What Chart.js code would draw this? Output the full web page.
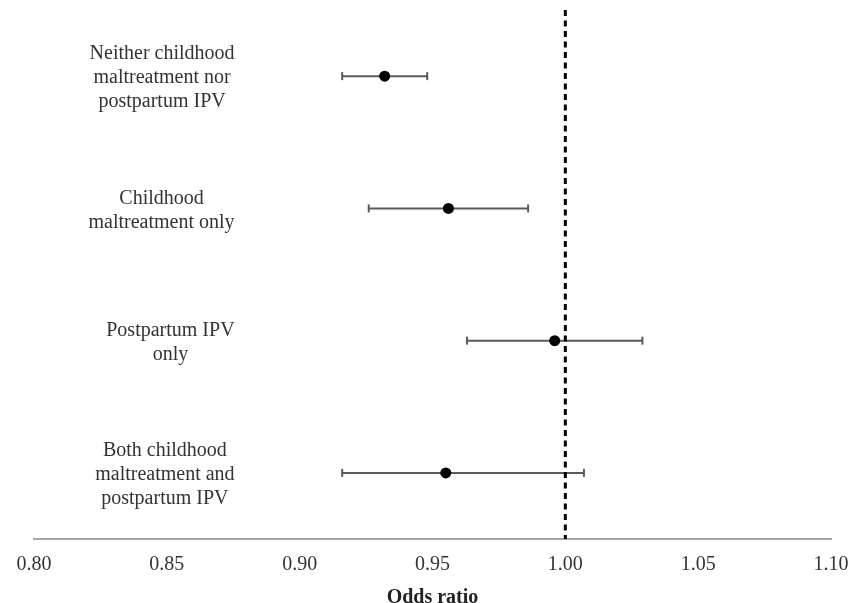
<!DOCTYPE html>
<html>
<head>
<meta charset="utf-8">
<script src="https://cdn.jsdelivr.net/npm/chart.js@4/dist/chart.umd.min.js"></script>
<style>
  html, body { margin: 0; padding: 0; background: #ffffff; }
  #wrap { width: 853px; height: 603px; }
</style>
</head>
<body>
<div id="wrap"><canvas id="c" width="853" height="603"></canvas></div>
<script>
// ---- Data ----
const categories = [
  ["Neither childhood", "maltreatment nor", "postpartum IPV"],
  ["Childhood", "maltreatment only"],
  ["Postpartum IPV", "only"],
  ["Both childhood", "maltreatment and", "postpartum IPV"]
];
const oddsRatio = [0.932, 0.956, 0.996, 0.955];
const ciLower   = [0.916, 0.926, 0.963, 0.916];
const ciUpper   = [0.948, 0.986, 1.029, 1.007];
const xTicks    = [0.80, 0.85, 0.90, 0.95, 1.00, 1.05, 1.10];
const referenceValue = 1.00;
const xTitle = "Odds ratio";

const FONT = '"Liberation Serif", "Times New Roman", serif';
const TEXT = '#333333';

const pointData = oddsRatio.map((v, i) => ({ x: v, y: i }));

const whiskerSets = categories.map((_, i) => ({
  data: [{ x: ciLower[i], y: i }, { x: ciUpper[i], y: i }],
  showLine: true,
  borderColor: '#5a5a5a',
  borderWidth: 2,
  pointStyle: 'line',
  pointRotation: 90,
  pointRadius: 4,
  pointBorderColor: '#5a5a5a',
  pointBorderWidth: 2,
  pointBackgroundColor: '#5a5a5a'
}));

const refSet = {
  data: [{ x: referenceValue, y: -0.5 }, { x: referenceValue, y: categories.length - 0.5 }],
  showLine: true,
  borderColor: '#000000',
  borderWidth: 3,
  borderDash: [6, 4.5],
  pointRadius: 0
};

const pointSet = {
  data: pointData,
  pointRadius: 5.5,
  pointBackgroundColor: '#000000',
  pointBorderColor: '#000000',
  pointBorderWidth: 0,
  showLine: false
};

const categoryLabels = {
  id: 'categoryLabels',
  afterDraw(chart) {
    const ctx = chart.ctx;
    const xs = chart.scales.x, ys = chart.scales.y;
    const lh = 24;
    ctx.save();
    ctx.font = '20px ' + FONT;
    ctx.fillStyle = TEXT;
    ctx.textAlign = 'center';
    ctx.textBaseline = 'middle';
    const right = xs.getPixelForValue(0.8755);
    categories.forEach((lines, i) => {
      const maxW = Math.max(...lines.map(l => ctx.measureText(l).width));
      const cx = right - maxW / 2;
      const y0 = ys.getPixelForValue(i) + 2 - (lines.length - 1) * lh / 2;
      lines.forEach((l, k) => ctx.fillText(l, cx, y0 + k * lh));
    });
    ctx.restore();
  }
};

new Chart(document.getElementById('c'), {
  type: 'scatter',
  data: { datasets: [pointSet, refSet, ...whiskerSets] },
  options: {
    responsive: false,
    animation: false,
    layout: { padding: { left: 34, right: 22, top: 10, bottom: 0 } },
    plugins: { legend: { display: false }, tooltip: { enabled: false } },
    scales: {
      x: {
        type: 'linear',
        min: xTicks[0],
        max: xTicks[xTicks.length - 1],
        afterBuildTicks: (scale) => { scale.ticks = xTicks.map(v => ({ value: v })); },
        afterFit: (scale) => { scale.height = 64; scale.paddingLeft = 0; scale.paddingRight = 0; },
        grid: { display: false, drawTicks: true, tickLength: 11 },
        border: { display: true, color: '#a6a6a6', width: 2 },
        ticks: {
          autoSkip: false,
          maxRotation: 0,
          padding: 3,
          color: TEXT,
          font: { family: FONT, size: 20 },
          callback: (v) => Number(v).toFixed(2)
        },
        title: {
          display: true,
          text: xTitle,
          color: '#222222',
          font: { family: FONT, size: 20, weight: 'bold', lineHeight: 1 },
          padding: { top: 0, bottom: -5 }
        }
      },
      y: {
        type: 'linear',
        display: false,
        reverse: true,
        min: -0.5,
        max: categories.length - 0.5
      }
    }
  },
  plugins: [categoryLabels]
});
</script>
</body>
</html>
